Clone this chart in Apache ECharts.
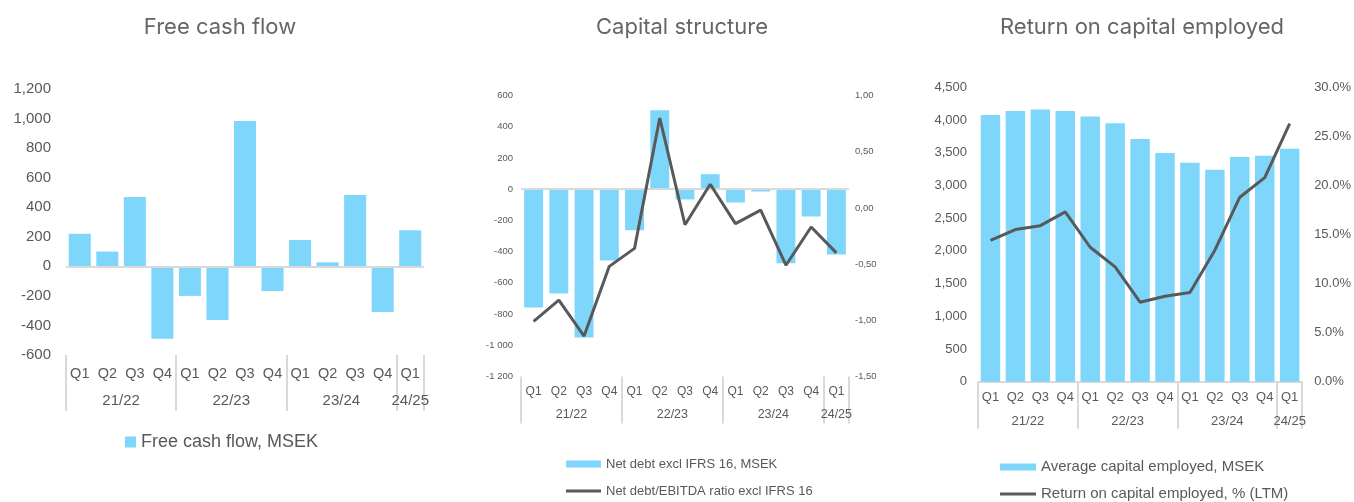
<!DOCTYPE html>
<html>
<head>
<meta charset="utf-8">
<script src="https://cdn.jsdelivr.net/npm/echarts@6/dist/echarts.min.js"></script>
<style>
html,body{margin:0;padding:0;background:#fff;}
#main{width:1354px;height:502px;}
</style>
</head>
<body>
<div id="main"></div>
<script>
// data
var quarters = ['Q1','Q2','Q3','Q4','Q1','Q2','Q3','Q4','Q1','Q2','Q3','Q4','Q1'];
var years = ['21/22','22/23','23/24','24/25'];
var yearMid = [2, 6, 10, 12.5];      // middle of each year group, in quarter units
var yearEdge = [0, 4, 8, 12, 13];    // group separators
var fcf = [220, 100, 470, -490, -200, -363, 983, -167, 178, 27, 483, -309, 244];
var netDebt = [-758, -668, -950, -457, -263, 506, -66, 96, -85, -15, -474, -175, -419];
var ndRatio = [-1.01, -0.82, -1.14, -0.52, -0.36, 0.80, -0.15, 0.21, -0.14, -0.02, -0.51, -0.17, -0.40];
var capEmp = [4077, 4138, 4159, 4138, 4052, 3950, 3710, 3496, 3348, 3241, 3435, 3455, 3562];
var roce = [14.4, 15.5, 15.9, 17.3, 13.7, 11.7, 8.1, 8.7, 9.1, 13.4, 18.8, 20.8, 26.3];

var blue = '#7ED6FA';
var dark = '#58595B';
var txt = '#595959';
var grey = '#D9D9D9';

function qAxis(grid, fs, margin){
	return {
		type: 'category', gridIndex: grid, position: 'bottom', data: quarters,
		axisLine: {show: false, onZero: false},
		axisTick: {show: false},
		axisLabel: {color: txt, fontSize: fs, margin: margin, interval: 0}
	};
}
// second bottom axis: year labels + group separators
function yearAxis(grid, fs, margin, tickLen, showLine){
	return {
		type: 'value', gridIndex: grid, position: 'bottom', min: 0, max: 13,
		splitLine: {show: false},
		axisLine: {show: showLine, onZero: false, lineStyle: {color: grey, width: 2}},
		axisTick: {show: true, customValues: yearEdge, length: tickLen, lineStyle: {color: grey, width: 2}},
		axisLabel: {
			customValues: yearMid, color: txt, fontSize: fs, margin: margin,
			formatter: function(v){ return years[yearMid.indexOf(v)]; }
		}
	};
}
function valAxis(grid, pos, min, max, step, fs, margin, fmt){
	var a = {
		type: 'value', gridIndex: grid, position: pos, min: min, max: max, interval: step,
		splitLine: {show: false}, axisLine: {show: false}, axisTick: {show: false},
		axisLabel: {color: txt, fontSize: fs, margin: margin}
	};
	if(fmt) a.axisLabel.formatter = fmt;
	return a;
}
// one legend entry per call so bar and line icons can differ in height
function legendItem(name, left, top, w, h, fs){
	return {left: left, top: top, padding: 0, itemWidth: w, itemHeight: h,
		textStyle: {color: txt, fontSize: fs}, data: [{name: name, icon: 'rect'}]};
}
var zeroLine = {
	silent: true, symbol: 'none', label: {show: false},
	lineStyle: {color: grey, width: 2, type: 'solid'},
	data: [{yAxis: 0}]
};

var myChart = echarts.init(document.getElementById('main'));
var option = {
	animation: false,
	textStyle: {fontFamily: 'Liberation Sans, Arial, sans-serif'},
	title: [
		{text: 'Free cash flow', left: 220, top: 16, textAlign: 'center', padding: 0},
		{text: 'Capital structure', left: 682, top: 16, textAlign: 'center', padding: 0},
		{text: 'Return on capital employed', left: 1142, top: 16, textAlign: 'center', padding: 0}
	].map(function(t){
		t.textStyle = {fontFamily: 'Inter, sans-serif', fontSize: 22, fontWeight: 'normal', color: '#666'};
		return t;
	}),
	legend: [
		legendItem('Free cash flow, MSEK', 125, 433, 11, 11, 18),
		legendItem('Net debt excl IFRS 16, MSEK', 566, 457.5, 35, 7, 13),
		legendItem('Net debt/EBITDA ratio excl IFRS 16', 566, 484.5, 35, 3, 13),
		legendItem('Average capital employed, MSEK', 1000, 459.5, 36, 7, 15),
		legendItem('Return on capital employed, % (LTM)', 1000, 486.5, 36, 3, 15)
	],
	grid: [
		{left: 66, right: 930, top: 89, bottom: 147},
		{left: 521, right: 505, top: 95.5, bottom: 125.5},
		{left: 978, right: 51, top: 87.3, bottom: 120.3}
	],
	xAxis: [
		qAxis(0, 14.5, 11), yearAxis(0, 15, 38, 56, false),
		qAxis(1, 12, 9.5), yearAxis(1, 12.5, 32, 47, false),
		qAxis(2, 13, 9.5), yearAxis(2, 13, 33, 47, true)
	],
	yAxis: [
		valAxis(0, 'left', -600, 1200, 200, 15, 15),
		valAxis(1, 'left', -1200, 600, 200, 9.5, 8, function(v){
			return String(v).replace(/\B(?=(\d{3})+(?!\d))/g, ' ');
		}),
		valAxis(1, 'right', -1.5, 1, 0.5, 9.5, 6, function(v){
			return v.toFixed(2).replace('.', ',');
		}),
		valAxis(2, 'left', 0, 4500, 500, 13, 11),
		valAxis(2, 'right', 0, 30, 5, 13, 12, function(v){
			return v.toFixed(1) + '%';
		})
	],
	series: [
		{name: 'Free cash flow, MSEK', type: 'bar', xAxisIndex: 0, yAxisIndex: 0, data: fcf,
		 barCategoryGap: '20%', itemStyle: {color: blue}, markLine: zeroLine},
		{name: 'Net debt excl IFRS 16, MSEK', type: 'bar', xAxisIndex: 2, yAxisIndex: 1, data: netDebt,
		 barCategoryGap: '25%', itemStyle: {color: blue}, markLine: zeroLine},
		{name: 'Net debt/EBITDA ratio excl IFRS 16', type: 'line', xAxisIndex: 2, yAxisIndex: 2, data: ndRatio,
		 symbol: 'none', z: 5, lineStyle: {color: dark, width: 3}, itemStyle: {color: dark}},
		{name: 'Average capital employed, MSEK', type: 'bar', xAxisIndex: 4, yAxisIndex: 3, data: capEmp,
		 barCategoryGap: '22%', itemStyle: {color: blue}},
		{name: 'Return on capital employed, % (LTM)', type: 'line', xAxisIndex: 4, yAxisIndex: 4, data: roce,
		 symbol: 'none', z: 5, lineStyle: {color: dark, width: 3}, itemStyle: {color: dark}}
	]
};
myChart.setOption(option);
</script>
</body>
</html>
